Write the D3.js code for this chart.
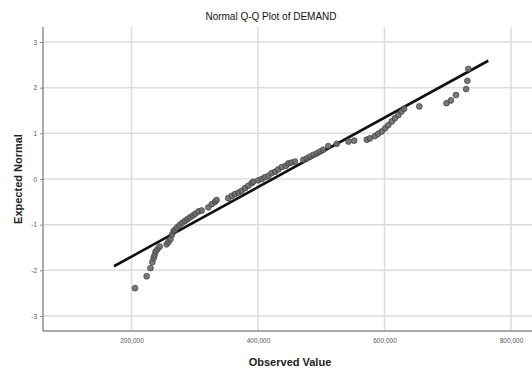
<!DOCTYPE html>
<html>
<head>
<meta charset="utf-8">
<script src="https://cdn.jsdelivr.net/npm/d3@7"></script>
<style>
  body { margin: 0; background: #fff; }
  svg text { font-family: "Liberation Sans", Arial, sans-serif; }
</style>
</head>
<body>
<svg id="chart" width="532" height="371"></svg>
<script>
let observed = [205500, 224000, 230000, 233000, 235000, 236500, 238000, 241000, 244500, 255500,
                258500, 261500, 264000, 266500, 269000, 272000, 276000, 280000, 284500, 288500,
                292500, 297000, 301000, 306000, 311000, 321500, 327000, 332000, 334500, 353000,
                358500, 363500, 369000, 374000, 379500, 384500, 390000, 392500, 400500, 406000,
                411000, 416500, 421500, 427000, 432000, 437500, 444000, 448000, 453000, 458500,
                471500, 477000, 482000, 487500, 493000, 498000, 503000, 511000, 524500, 543000,
                552000, 572000, 577000, 585000, 590000, 595500, 601000, 606000, 611500, 616500,
                622000, 627000, 631000, 655000, 698000, 705000, 713000, 729000, 731000, 732500];
let expected = [-2.39, -2.13, -1.95, -1.82, -1.73, -1.67, -1.59, -1.54, -1.48, -1.43,
                -1.38, -1.32, -1.22, -1.14, -1.11, -1.06, -1.01, -0.96, -0.92, -0.88,
                -0.84, -0.80, -0.76, -0.71, -0.69, -0.62, -0.55, -0.50, -0.46, -0.42,
                -0.37, -0.33, -0.30, -0.26, -0.20, -0.15, -0.09, -0.06, -0.03, 0.00,
                0.04, 0.07, 0.13, 0.16, 0.21, 0.26, 0.29, 0.34, 0.36, 0.38,
                0.42, 0.45, 0.49, 0.53, 0.56, 0.60, 0.64, 0.72, 0.77, 0.82,
                0.84, 0.86, 0.89, 0.94, 0.99, 1.04, 1.11, 1.18, 1.26, 1.33,
                1.40, 1.48, 1.54, 1.59, 1.66, 1.72, 1.84, 1.97, 2.15, 2.41];
// reference line: normal with this mean / sd, drawn over this range
let lineMean = 423500;
let lineSd = 131500;
let lineRange = [172300, 764000];
let xTicks = [200000, 400000, 600000, 800000];
let yTicks = [-3, -2, -1, 0, 1, 2, 3];

let svg = d3.select("#chart");
let pLeft = 43, pRight = 532, pTop = 27, pBottom = 331;

let x = d3.scaleLinear().domain([0, 800000]).range([5, 511]);
let y = d3.scaleLinear().domain([-3, 3]).range([316, 42]);

let gridColor = "#dcdcdc";
let axisColor = "#8c8c8c";

// grid
svg.append("g").selectAll("line.h").data(yTicks).enter().append("line")
   .attr("x1", pLeft).attr("x2", pRight)
   .attr("y1", d => y(d)).attr("y2", d => y(d))
   .attr("stroke", gridColor).attr("stroke-width", 1.5);
svg.append("g").selectAll("line.v").data(xTicks).enter().append("line")
   .attr("x1", d => x(d)).attr("x2", d => x(d))
   .attr("y1", pTop).attr("y2", pBottom)
   .attr("stroke", gridColor).attr("stroke-width", 1.5);

// axes
let xAxis = d3.axisBottom(x).tickValues(xTicks).tickSize(0).tickPadding(7)
              .tickFormat(d3.format(",d"));
let yAxis = d3.axisLeft(y).tickValues(yTicks).tickSize(3).tickPadding(3)
              .tickFormat(d => d < 0 ? "-" + Math.abs(d) : String(d));

let gx = svg.append("g").attr("transform", "translate(0," + pBottom + ")").call(xAxis);
let gy = svg.append("g").attr("transform", "translate(" + pLeft + ",0)").call(yAxis);
[gx, gy].forEach(g => {
  g.select(".domain").remove();
  g.selectAll("line").attr("stroke", axisColor);
  g.selectAll("text").attr("font-size", "6.5px").attr("fill", "#555")
   .style("font-family", "'Liberation Sans', Arial, sans-serif");
});

svg.append("line").attr("x1", pLeft).attr("x2", pLeft).attr("y1", pTop).attr("y2", pBottom)
   .attr("stroke", axisColor).attr("stroke-width", 1.5);
svg.append("line").attr("x1", pLeft).attr("x2", pRight).attr("y1", pBottom).attr("y2", pBottom)
   .attr("stroke", axisColor).attr("stroke-width", 1.5);

// reference line
svg.append("line")
   .attr("x1", x(lineRange[0])).attr("y1", y((lineRange[0] - lineMean) / lineSd))
   .attr("x2", x(lineRange[1])).attr("y2", y((lineRange[1] - lineMean) / lineSd))
   .attr("stroke", "#111").attr("stroke-width", 2.6);

// points
svg.append("g").selectAll("circle").data(observed).enter().append("circle")
   .attr("cx", d => x(d))
   .attr("cy", (d, i) => y(expected[i]))
   .attr("r", 2.9)
   .attr("fill", "#6a6a6a")
   .attr("fill-opacity", 0.9)
   .attr("stroke", "#3a3a3a")
   .attr("stroke-width", 0.7);

// titles
svg.append("text").attr("x", 271).attr("y", 20).attr("text-anchor", "middle")
   .attr("font-size", "10px").attr("fill", "#111").text("Normal Q-Q Plot of DEMAND");
svg.append("text").attr("x", 290).attr("y", 366).attr("text-anchor", "middle")
   .attr("font-size", "11px").attr("font-weight", "bold").attr("fill", "#222")
   .text("Observed Value");
svg.append("text").attr("transform", "translate(22,179) rotate(-90)")
   .attr("text-anchor", "middle")
   .attr("font-size", "11px").attr("font-weight", "bold").attr("fill", "#222")
   .text("Expected Normal");
</script>
</body>
</html>
